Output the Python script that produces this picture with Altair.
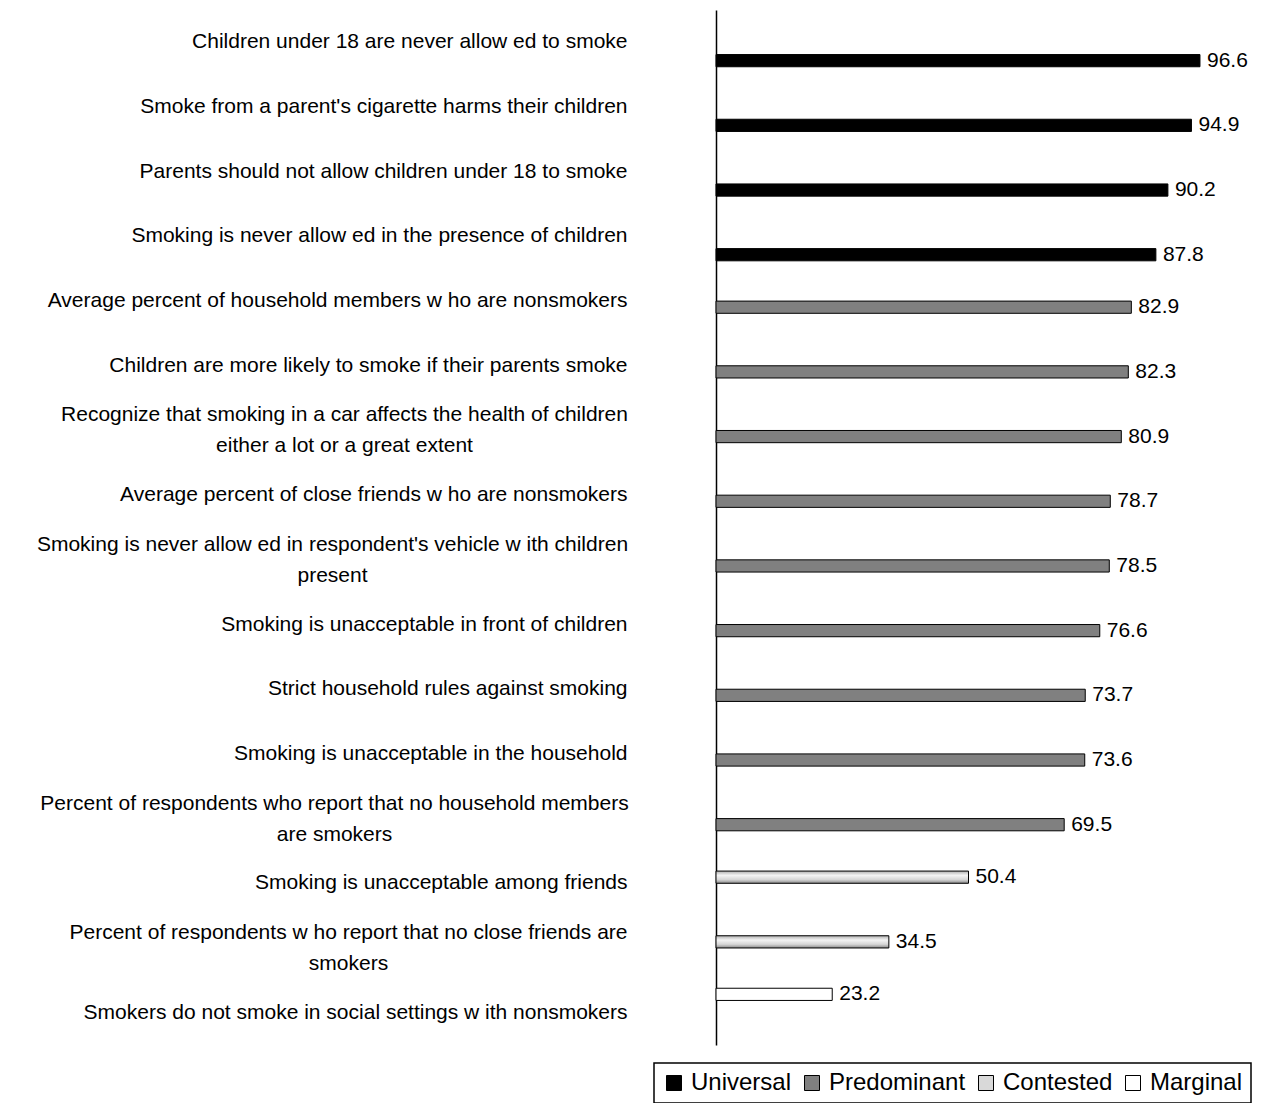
import altair as alt
import pandas as pd

labels = [
    "Children under 18 are never allow ed to smoke",
    "Smoke from a parent's cigarette harms their children",
    "Parents should not allow  children under 18 to smoke",
    "Smoking is never allow ed in the presence of children",
    "Average percent of household members w ho are nonsmokers",
    "Children are more likely to smoke if their parents smoke",
    "Recognize that smoking in a car affects the health of children|either a lot or a great extent",
    "Average percent of close friends w ho are nonsmokers",
    "Smoking is never allow ed in respondent's vehicle w ith children|present",
    "Smoking is unacceptable in front of children",
    "Strict household rules against smoking",
    "Smoking is unacceptable in the household",
    "Percent of respondents who report that no household members|are smokers",
    "Smoking is unacceptable among friends",
    "Percent of respondents w ho report that no close friends are|smokers",
    "Smokers do not smoke in social settings w ith nonsmokers",
]
values = [96.6, 94.9, 90.2, 87.8, 82.9, 82.3, 80.9, 78.7, 78.5, 76.6, 73.7, 73.6, 69.5, 50.4, 34.5, 23.2]
norms = ["Universal"] * 4 + ["Predominant"] * 9 + ["Contested"] * 2 + ["Marginal"]

legend_order = ["Universal", "Predominant", "Contested", "Marginal"]
legend_colors = ["#000000", "#808080", "#d9d9d9", "#ffffff"]
offset_order = ["Marginal", "Contested", "Predominant", "Universal"]

# two-line labels: lines are centred under the first line (padding to the centre of each block)
multi_prefix = ["Recognize", "Smoking is never allow ed in respondent", "Percent of respondents who", "Percent of respondents w ho"]
multi_pad = [372, 384, 382, 368]

df = pd.DataFrame({"label": labels, "value": values, "norm": norms})

FONT = "Liberation Sans"
MULTI = "indexof(datum.value, '|') >= 0"

pad_cond = {
    "condition": [
        {"test": f"indexof(datum.value, '{p}') == 0", "value": v}
        for p, v in zip(multi_prefix, multi_pad)
    ],
    "value": 89,
}

y_enc = alt.Y(
    "label:N",
    sort=None,
    scale=alt.Scale(domain=labels, paddingInner=0, paddingOuter=0),
    axis=alt.Axis(
        title=None,
        ticks=False,
        labelPadding=pad_cond,
        labelAlign={"condition": {"test": MULTI, "value": "center"}, "value": "right"},
        labelOffset={"condition": {"test": MULTI, "value": -15}, "value": 0},
        labelLimit=1000,
        labelFont=FONT,
        labelFontSize=21,
        labelColor="#000000",
        labelLineHeight=31,
        labelExpr="split(datum.label, '|')",
        domainColor="#000000",
        domainWidth=1.5,
        grid=False,
    ),
)
yoff_enc = alt.YOffset(
    "norm:N",
    scale=alt.Scale(domain=offset_order, paddingOuter=0.65, paddingInner=0),
)
x_enc = alt.X("value:Q", scale=alt.Scale(domain=[0, 100]), axis=None)

base = alt.Chart(df)

bars = base.transform_filter(alt.datum.norm != "Contested").mark_bar(
    stroke="#000000", strokeWidth=1
).encode(
    x=x_enc,
    y=y_enc,
    yOffset=yoff_enc,
    color=alt.Color(
        "norm:N",
        scale=alt.Scale(domain=legend_order, range=legend_colors),
        legend=alt.Legend(
            title=None,
            orient="none",
            legendX=-62,
            legendY=1053,
            direction="horizontal",
            symbolType="square",
            symbolSize=225,
            symbolStrokeColor="#000000",
            symbolStrokeWidth=1,
            labelFont=FONT,
            labelFontSize=24,
            labelColor="#000000",
            labelOffset=5,
            columnPadding=8,
            padding=8,
            strokeColor="#000000",
        ),
    ),
)

contested = base.transform_filter(alt.datum.norm == "Contested").mark_bar(
    stroke="#000000",
    strokeWidth=1,
    color=alt.Gradient(
        gradient="linear",
        stops=[
            alt.GradientStop(color="#b0b0b0", offset=0),
            alt.GradientStop(color="#f4f4f4", offset=0.35),
            alt.GradientStop(color="#d6d6d6", offset=0.7),
            alt.GradientStop(color="#8a8a8a", offset=1),
        ],
        x1=0, x2=0, y1=0, y2=1,
    ),
).encode(x=x_enc, y=y_enc, yOffset=yoff_enc)

texts = base.mark_text(
    align="left", baseline="middle", dx=7, font=FONT, fontSize=21, color="#000000"
).encode(
    x=x_enc,
    y=y_enc,
    yOffset=yoff_enc,
    text=alt.Text("value:Q", format=".1f"),
)

chart = (
    alt.layer(bars, contested, texts)
    .properties(
        width=501,
        height=1035,
        autosize=alt.AutoSizeParams(type="none"),
        padding={"left": 708, "top": 2, "right": 36, "bottom": 58},
    )
    .configure_view(stroke=None)
    .configure_legend(strokeWidth=1.5)
)

chart.save("out.html", embed_options={"renderer": "svg", "actions": False})
